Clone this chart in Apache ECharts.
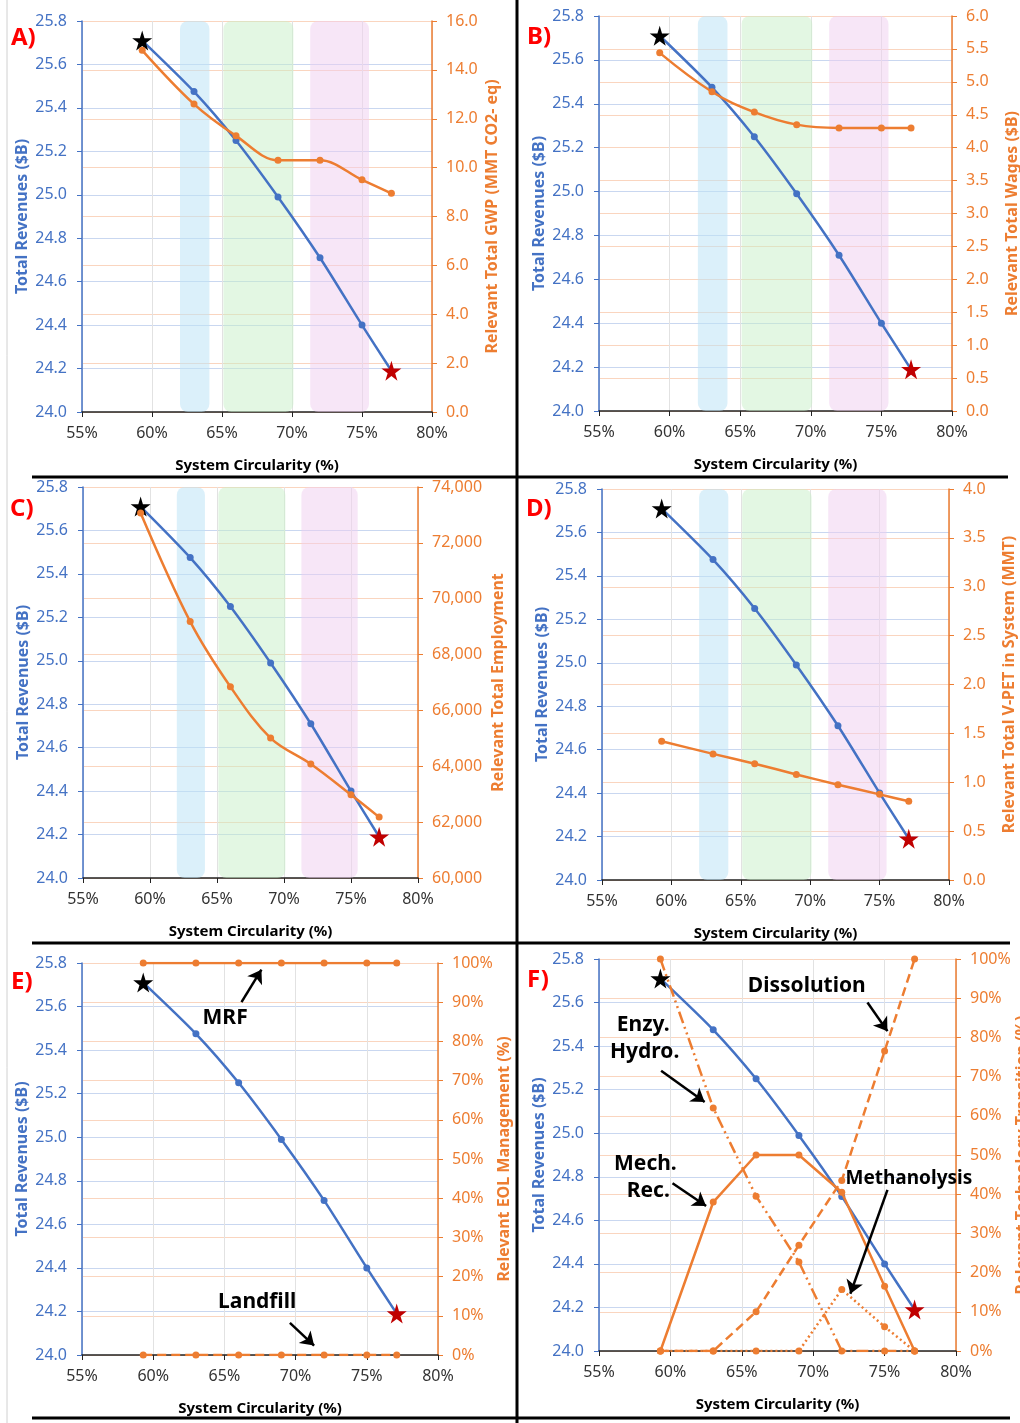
<!DOCTYPE html>
<html lang="en">
<head>
<meta charset="UTF-8">
<title>Revenues vs system circularity</title>
<script src="https://cdn.jsdelivr.net/npm/echarts@6/dist/echarts.min.js"></script>
<style>
    html, body { margin: 0; padding: 0; background: #fff; }
    #main { width: 1020px; height: 1423px; }
</style>
</head>
<body>
<div id="main"></div>
<script>
// --- data ---
var circularity = [59.3, 63, 66, 69, 72, 75, 77.1];          // System Circularity (%)
var revenues    = [25.71, 25.475, 25.25, 24.99, 24.71, 24.40, 24.19]; // $B
var gwp         = [14.8, 12.6, 11.3, 10.3, 10.3, 9.5, 8.95];  // MMT CO2-eq
var wages       = [5.44, 4.85, 4.54, 4.35, 4.30, 4.30, 4.30]; // $B
var employment  = [73070, 69180, 66850, 65010, 64080, 62980, 62180];
var vpet        = [1.42, 1.29, 1.19, 1.08, 0.975, 0.876, 0.805]; // MMT
var mrf         = [100, 100, 100, 100, 100, 100, 100];        // %
var landfill    = [0, 0, 0, 0, 0, 0, 0];                      // %
var mechRec     = [0, 38, 50, 50, 40.5, 16.5, 0];             // %
var enzyHydro   = [100, 62, 39.5, 22.7, 0, 0, 0];             // %
var dissolution = [0, 0, 10, 27, 43.5, 76.5, 100];            // %
var methanolysis= [0, 0, 0, 0, 15.7, 6.2, 0];                 // %

// shaded regions along the circularity axis (%)
var bandStart = [62, 65.1, 71.3];
var bandEnd   = [64.1, 70.1, 75.5];

var panelLetters = ['A)', 'B)', 'C)', 'D)', 'E)', 'F)'];
var rightNames = [
    'Relevant Total GWP (MMT CO2- eq)',
    'Relevant Total Wages ($B)',
    'Relevant Total Employment',
    'Relevant Total V-PET in System (MMT)',
    'Relevant EOL Management (%)',
    'Relevant Technology Transition (%)'
];

// --- styling / layout ---
var BLUE = '#4472c4', ORANGE = '#ed7d31';
var FONT = 'Noto Sans';
var STAR = 'path://M50,0 L61,35 L98,35 L68,57 L79,91 L50,70 L21,91 L32,57 L2,35 L39,35 Z';
var bandColors = ['rgba(190,228,245,0.55)', 'rgba(200,240,200,0.5)', 'rgba(240,205,240,0.5)'];

var grids = [
    { left: 82,  top: 21,  width: 350, height: 391 },
    { left: 599, top: 16,  width: 353, height: 395 },
    { left: 83,  top: 487, width: 335, height: 391 },
    { left: 602, top: 489, width: 347, height: 391 },
    { left: 82,  top: 963, width: 356, height: 392 },
    { left: 599, top: 959, width: 357, height: 392 }
];
grids.forEach(function (g) { g.outerBoundsMode = 'none'; g.containLabel = false; });
var letterPos = [[11, 26], [527, 25], [10, 497], [526, 497], [11, 970], [527, 968]];

var fmt1 = function (v) { return v.toFixed(1); };
var rightAxes = [
    { min: 0, max: 16, interval: 2, fmt: fmt1 },
    { min: 0, max: 6, interval: 0.5, fmt: fmt1 },
    { min: 60000, max: 74000, interval: 2000, fmt: function (v) { return v.toLocaleString('en-US'); } },
    { min: 0, max: 4, interval: 0.5, fmt: fmt1 },
    { min: 0, max: 100, interval: 10, fmt: function (v) { return v + '%'; } },
    { min: 0, max: 100, interval: 10, fmt: function (v) { return v + '%'; } }
];

function pairs(vals) {
    return circularity.map(function (x, i) { return [x, vals[i]]; });
}

var xAxes = [], yAxes = [], series = [], titles = [];

grids.forEach(function (g, i) {
    xAxes.push({
        gridIndex: i, type: 'value', min: 55, max: 80, interval: 5,
        name: 'System Circularity (%)', nameLocation: 'middle', nameGap: 46,
        nameTextStyle: { color: '#000', fontWeight: 'bold', fontSize: 15, fontFamily: FONT },
        axisLine: { show: true, onZero: false, lineStyle: { color: '#222', width: 1.5 } },
        axisTick: { show: true, length: 5, lineStyle: { color: '#222' } },
        axisLabel: { formatter: '{value}%', color: '#333', fontSize: 16, fontFamily: FONT, margin: 13 },
        splitLine: { show: true, lineStyle: { color: '#e2e2e2' } }
    });
    yAxes.push({
        gridIndex: i, type: 'value', position: 'left', min: 24, max: 25.8, interval: 0.2,
        name: 'Total Revenues ($B)', nameLocation: 'middle', nameGap: 52,
        nameTextStyle: { color: BLUE, fontWeight: 'bold', fontSize: 16, fontFamily: FONT },
        axisLine: { show: true, lineStyle: { color: BLUE, width: 1.5 } },
        axisTick: { show: true, length: 5, lineStyle: { color: BLUE } },
        axisLabel: { color: BLUE, fontSize: 16, fontFamily: FONT, formatter: fmt1, margin: 15 },
        splitLine: { show: true, lineStyle: { color: '#c9d7f0' } }
    });
    var ra = rightAxes[i];
    yAxes.push({
        gridIndex: i, type: 'value', position: 'right', min: ra.min, max: ra.max, interval: ra.interval,
        name: rightNames[i], nameLocation: 'middle', nameGap: i === 2 ? 72 : 52,
        nameTextStyle: { color: ORANGE, fontWeight: 'bold', fontSize: 16, fontFamily: FONT },
        axisLine: { show: true, lineStyle: { color: ORANGE, width: 1.5 } },
        axisTick: { show: true, length: 5, lineStyle: { color: ORANGE } },
        axisLabel: { color: ORANGE, fontSize: 16, fontFamily: FONT, formatter: ra.fmt, margin: 14 },
        splitLine: { show: true, lineStyle: { color: '#fad5bf' } }
    });
    titles.push({
        text: panelLetters[i], left: letterPos[i][0], top: letterPos[i][1], padding: 0,
        textStyle: { color: '#ff0000', fontSize: 24, fontWeight: 'bold', fontFamily: FONT }
    });

    // shaded bands (panels A-D)
    if (i < 4) {
        series.push({
            type: 'custom', xAxisIndex: i, yAxisIndex: 2 * i, silent: true, z: 1,
            data: bandStart.map(function (s, k) { return [s, bandEnd[k]]; }),
            renderItem: function (params, api) {
                var cs = params.coordSys;
                var x0 = api.coord([api.value(0), 25])[0];
                var x1 = api.coord([api.value(1), 25])[0];
                return {
                    type: 'rect',
                    shape: { x: x0, y: cs.y, width: x1 - x0, height: cs.height, r: 8 },
                    style: { fill: bandColors[params.dataIndex] }
                };
            }
        });
    }

    // revenue line with start / end stars
    series.push({
        type: 'line', xAxisIndex: i, yAxisIndex: 2 * i, z: 3,
        smooth: 0.25, symbol: 'circle', symbolSize: 7,
        lineStyle: { color: BLUE, width: 2.5 }, itemStyle: { color: BLUE },
        data: circularity.map(function (x, k) {
            var item = { value: [x, revenues[k]] };
            if (k === 0) { item.symbol = STAR; item.symbolSize = 20; item.itemStyle = { color: '#000' }; }
            if (k === circularity.length - 1) { item.symbol = STAR; item.symbolSize = 20; item.itemStyle = { color: '#c00000' }; }
            return item;
        })
    });
});

function orangeLine(idx, vals, extra) {
    var s = {
        type: 'line', xAxisIndex: idx, yAxisIndex: 2 * idx + 1, z: 4,
        symbol: 'circle', symbolSize: 7,
        lineStyle: { color: ORANGE, width: 2.5 }, itemStyle: { color: ORANGE },
        data: pairs(vals)
    };
    for (var k in extra) s[k] = extra[k];
    return s;
}

function arrows(list) {
    return {
        silent: true, symbol: ['none', 'arrow'], symbolSize: 13,
        lineStyle: { color: '#000', width: 2.5, type: 'solid' },
        itemStyle: { color: '#000' },
        label: { show: false }, emphasis: { disabled: true },
        data: list.map(function (a) { return [{ coord: a[0] }, { coord: a[1] }]; })
    };
}
function labels(list, size) {
    return {
        silent: true, symbol: 'circle', symbolSize: 1, itemStyle: { color: 'rgba(0,0,0,0)' },
        label: { show: true, position: 'inside', formatter: '{b}', color: '#000', fontWeight: 'bold', fontSize: size, fontFamily: FONT },
        data: list.map(function (t) { return { name: t[0], coord: t[1], label: t[2] ? { fontSize: t[2] } : undefined }; })
    };
}

series.push(orangeLine(0, gwp, { smooth: 0.35 }));
series.push(orangeLine(1, wages, { smooth: 0.4 }));
series.push(orangeLine(2, employment, { smooth: 0.35 }));
series.push(orangeLine(3, vpet, { smooth: 0.2 }));

// panel E: EOL management
series.push(orangeLine(4, mrf, {
    markLine: arrows([[[66.2, 90], [67.6, 98.3]]]),
    markPoint: labels([['MRF', [65.05, 86]]], 21)
}));
series.push(orangeLine(4, landfill, {
    lineStyle: { color: ORANGE, width: 2.5, type: [9, 5] },
    markLine: arrows([[[69.6, 8.2], [71.3, 2.4]]]),
    markPoint: labels([['Landfill', [67.3, 13.4]]], 21)
}));

// panel F: technology transition
series.push(orangeLine(5, dissolution, { lineStyle: { color: ORANGE, width: 2.5, type: [9, 5] } }));
series.push(orangeLine(5, enzyHydro, { lineStyle: { color: ORANGE, width: 2.5, type: [12, 4, 2, 4, 2, 4] } }));
series.push(orangeLine(5, methanolysis, { lineStyle: { color: ORANGE, width: 2.5, type: [2, 3] } }));
series.push(orangeLine(5, mechRec, {
    markLine: arrows([
        [[73.8, 88.9], [75.2, 81.6]],
        [[59.35, 71.5], [62.4, 63.5]],
        [[60.15, 42.8], [62.5, 37.0]],
        [[75.2, 41.1], [72.6, 14.6]]
    ]),
    markPoint: labels([
        ['Dissolution', [69.55, 93.2]],
        ['Enzy.', [58.1, 83.1]],
        ['Hydro.', [58.2, 76.3]],
        ['Mech.', [58.25, 47.7]],
        ['Rec.', [58.45, 40.8]],
        ['Methanolysis', [76.7, 44], 19]
    ], 21)
}));

// frame lines between panels
var frame = [
    { type: 'line', shape: { x1: 517, y1: 0, x2: 517, y2: 1423 }, style: { stroke: '#000', lineWidth: 3 } },
    { type: 'line', shape: { x1: 32, y1: 477, x2: 1008, y2: 477 }, style: { stroke: '#000', lineWidth: 3 } },
    { type: 'line', shape: { x1: 32, y1: 943, x2: 1010, y2: 943 }, style: { stroke: '#000', lineWidth: 3 } },
    { type: 'line', shape: { x1: 32, y1: 1418, x2: 1010, y2: 1418 }, style: { stroke: '#000', lineWidth: 3 } },
    { type: 'line', shape: { x1: 7, y1: 0, x2: 7, y2: 1423 }, style: { stroke: '#d0d0d0', lineWidth: 1 } }
];

var myChart = echarts.init(document.getElementById('main'));
myChart.setOption({
    animation: false,
    backgroundColor: '#fff',
    title: titles,
    grid: grids,
    xAxis: xAxes,
    yAxis: yAxes,
    series: series,
    graphic: frame
});
</script>
</body>
</html>
